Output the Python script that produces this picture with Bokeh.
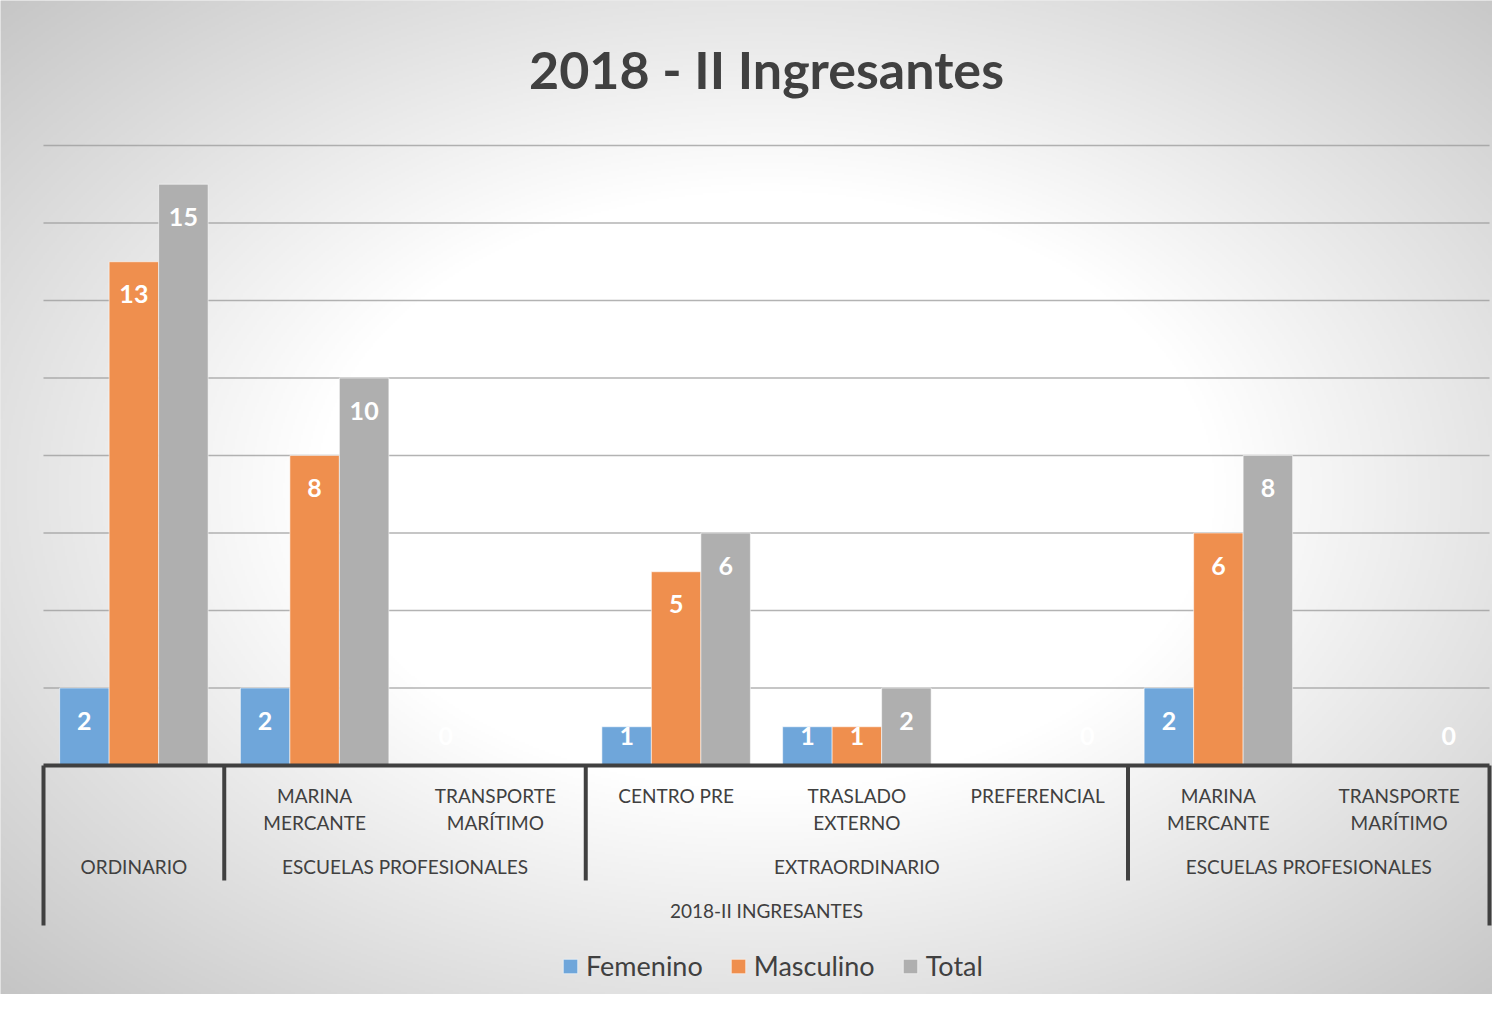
import numpy as np
from bokeh.plotting import figure
from bokeh.models import Range1d, Label, Legend, LegendItem, ColumnDataSource
from bokeh.core.properties import value
from bokeh.embed import file_html
from bokeh.resources import INLINE

# ---------------- data ----------------
title_text = "2018 - II Ingresantes"
axis_title = "2018-II INGRESANTES"
leaf_labels = ["", "MARINA\nMERCANTE", "TRANSPORTE\nMARÍTIMO", "CENTRO PRE",
               "TRASLADO\nEXTERNO", "PREFERENCIAL", "MARINA\nMERCANTE", "TRANSPORTE\nMARÍTIMO"]
group_labels = ["ORDINARIO", "ESCUELAS PROFESIONALES", "EXTRAORDINARIO", "ESCUELAS PROFESIONALES"]
group_sizes = [1, 2, 3, 2]
series_names = ["Femenino", "Masculino", "Total"]
femenino = [2, 2, 0, 1, 1, None, 2, None]
masculino = [13, 8, None, 5, 1, None, 6, None]
total = [15, 10, None, 6, 2, 0, 8, 0]
colors = ["#6fa6da", "#ef8f4e", "#afafaf"]
grid_ticks = list(range(2, 17, 2))

# ---------------- layout ----------------
W, H = 1492, 994
PX = 180.75      # px per category
PY = 38.75       # px per value unit
X0 = 43          # canvas px of category axis start
Y0 = 765         # canvas px (from top) of baseline
FONT = "Lato"
TXT = "#404040"

def sy(py):
    return (Y0 - py) / PY

xr = Range1d(-X0 / PX, (W - X0) / PX)
yr = Range1d(-(H - Y0) / PY, Y0 / PY)

p = figure(width=W, height=H, x_range=xr, y_range=yr, x_axis_type=None, y_axis_type=None,
           toolbar_location=None, output_backend="svg", min_border=0,
           outline_line_color=None, background_fill_color="#d9d9d9", border_fill_color="#d9d9d9")

# radial gradient background
hw, hh = W // 2, H // 2
jj = (np.arange(hw) + 0.5) * 2
ii = H - (np.arange(hh) + 0.5) * 2
X, Y = np.meshgrid(jj, ii)
r = np.sqrt(((X - 765) / 750.0) ** 2 + ((Y - 490) / 500.0) ** 2)
b = np.clip(255 - 70 * np.maximum(0, r - 0.6), 0, 255).astype(np.uint32)
img = (255 << 24) | (b << 16) | (b << 8) | b
p.image_rgba(image=[img.astype(np.uint32)], x=xr.start, y=yr.start,
             dw=xr.end - xr.start, dh=yr.end - yr.start)

n = len(leaf_labels)

# gridlines
p.segment(x0=[0] * len(grid_ticks), x1=[n] * len(grid_ticks), y0=grid_ticks, y1=grid_ticks,
          line_color="#9a9a9a", line_alpha=0.75, line_width=1.5)

# bars
centers = np.arange(n) + 0.5
pitch = 49.5 / PX
renderers = []
for k, (name, vals, col) in enumerate(zip(series_names, [femenino, masculino, total], colors)):
    xs = centers + (k - 1) * pitch
    top = np.array([np.nan if v is None else v for v in vals], dtype=float)
    src = ColumnDataSource(dict(x=xs, top=top))
    rr = p.vbar(x="x", top="top", bottom=0, width=pitch, fill_color=col,
                line_color="white", line_alpha=0.55, line_width=1, source=src)
    renderers.append(rr)
    mask = ~np.isnan(top)
    ly = np.maximum(top[mask] - 32.5 / PY, 30 / PY)
    p.text(x=xs[mask], y=ly, text=[str(int(v)) for v in top[mask]], text_color="white",
           text_font=value(FONT), text_font_style="bold", text_font_size="25px",
           text_align="center", text_baseline="middle")

# category axis line and separators
p.segment(x0=[0], y0=[0], x1=[n], y1=[0], line_color=TXT, line_width=4)
bounds = np.concatenate([[0], np.cumsum(group_sizes)])
inner = bounds[1:-1]
outer = [bounds[0], bounds[-1]]
p.segment(x0=inner, x1=inner, y0=[0] * len(inner), y1=[sy(880)] * len(inner),
          line_color=TXT, line_width=4)
p.segment(x0=outer, x1=outer, y0=[0, 0], y1=[sy(925)] * 2, line_color=TXT, line_width=4)

# leaf labels
lh = 27
ly_leaf = [sy(795 + (lab.count("\n")) * lh / 2) for lab in leaf_labels]
p.text(x=centers, y=ly_leaf, text=leaf_labels, text_color=TXT, text_font=value(FONT),
       text_font_size="19px", text_align="center", text_baseline="middle",
       text_line_height=1.16)

# group labels
gcent = bounds[:-1] + np.array(group_sizes) / 2
p.text(x=gcent, y=[sy(866)] * len(gcent), text=group_labels, text_color=TXT,
       text_font=value(FONT), text_font_size="19px", text_align="center", text_baseline="middle")

# axis title
p.text(x=[n / 2], y=[sy(910)], text=[axis_title], text_color=TXT, text_font=value(FONT),
       text_font_size="19px", text_align="center", text_baseline="middle")

# chart title
p.add_layout(Label(x=n / 2, y=H - 68, x_units="data", y_units="screen", text=title_text,
                   text_font=FONT, text_font_style="bold", text_font_size="52px",
                   text_color=TXT, text_align="center", text_baseline="middle"))

# legend
legend = Legend(items=[LegendItem(label=nm, renderers=[rr]) for nm, rr in zip(series_names, renderers)],
                orientation="horizontal", location=(561, 12), glyph_width=18, glyph_height=18,
                label_standoff=7, spacing=26, padding=0, margin=0,
                border_line_color=None, background_fill_alpha=0,
                label_text_font=FONT, label_text_font_size="27px", label_text_color=TXT)
p.add_layout(legend)

open("out.html", "w").write(file_html(p, INLINE))
